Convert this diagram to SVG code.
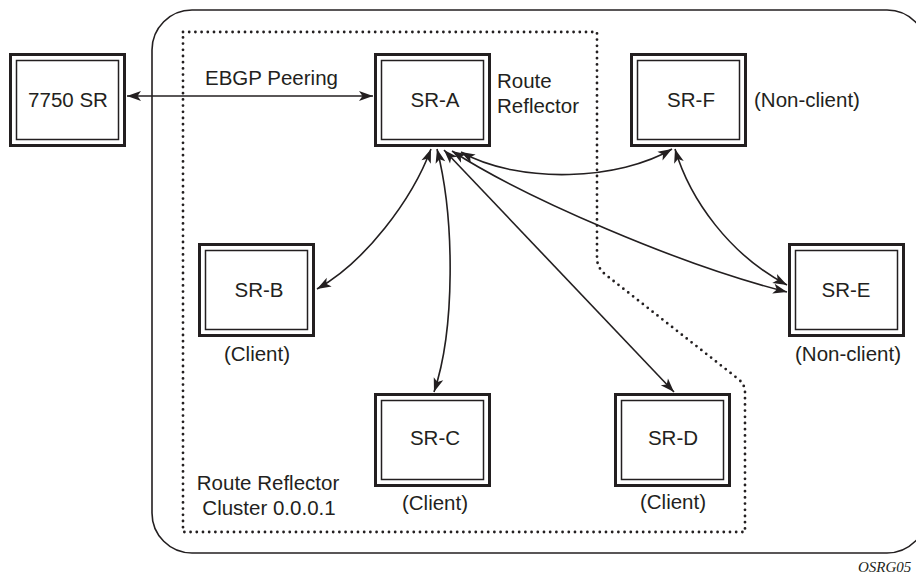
<svg xmlns="http://www.w3.org/2000/svg" width="916" height="575" viewBox="0 0 916 575">
<style>
  text { font-family: "Liberation Sans", Arial, sans-serif; font-size: 20.5px; fill: #231f20; }
  .mid { text-anchor: middle; }
  .outer { fill: #fff; stroke: #231f20; stroke-width: 3; }
  .inner { fill: none; stroke: #231f20; stroke-width: 1.5; }
  .conn { fill: none; stroke: #231f20; stroke-width: 1.6; marker-start: url(#ah); marker-end: url(#ah); }
  .dots { fill: none; stroke: #231f20; stroke-width: 2.8; stroke-linecap: round; stroke-dasharray: 0 6.2; }
  .tag { font-family: "Liberation Serif", "Times New Roman", serif; font-style: italic; font-size: 15px; }
</style>
<defs>
  <marker id="ah" markerUnits="userSpaceOnUse" markerWidth="15" markerHeight="11" refX="14" refY="5" orient="auto-start-reverse" overflow="visible">
    <path d="M0,0 L14,5 L0,10 L3.5,5 Z" fill="#231f20"/>
  </marker>
</defs>

<rect x="152" y="10" width="775" height="543" rx="40" ry="40" fill="none" stroke="#231f20" stroke-width="1.6"/>
<path class="dots" d="M183,32 H597 V258 Q597,268 606,275 L737,378 Q745,384 745,392 V532 H183 Z"/>

<text x="268" y="490" class="mid">Route Reflector</text>
<text x="269" y="515" class="mid">Cluster 0.0.0.1</text>

<g id="connectors">
  <path class="conn" d="M127,96 H373"/>
  <path class="conn" d="M431,149 C412,200 365,262 317,289"/>
  <path class="conn" d="M437,149 C455,220 455,330 434,392"/>
  <path class="conn" d="M444,150 L674,392"/>
  <path class="conn" d="M452,151 C525,198 680,265 787,292"/>
  <path class="conn" d="M461,152 C520,185 620,180 672,149"/>
  <path class="conn" d="M675,149 C690,200 730,255 787,285"/>
</g>
<text x="205" y="85">EBGP Peering</text>

<g id="n7750">
  <rect class="outer" x="10.5" y="54.5" width="114" height="91"/>
  <rect class="inner" x="16.5" y="60.5" width="102" height="79"/>
  <text x="68" y="107" class="mid">7750 SR</text>
</g>
<g id="srA">
  <rect class="outer" x="375.5" y="54.5" width="114" height="91"/>
  <rect class="inner" x="381.5" y="60.5" width="102" height="79"/>
  <text x="435" y="107" class="mid">SR-A</text>
  <text x="497" y="88">Route</text>
  <text x="497" y="113">Reflector</text>
</g>
<g id="srF">
  <rect class="outer" x="631.5" y="54.5" width="114" height="91"/>
  <rect class="inner" x="637.5" y="60.5" width="102" height="79"/>
  <text x="691" y="107" class="mid">SR-F</text>
  <text x="754" y="107">(Non-client)</text>
</g>
<g id="srB">
  <rect class="outer" x="199.5" y="244.5" width="114" height="91"/>
  <rect class="inner" x="205.5" y="250.5" width="102" height="79"/>
  <text x="259" y="297" class="mid">SR-B</text>
  <text x="257" y="361" class="mid">(Client)</text>
</g>
<g id="srE">
  <rect class="outer" x="789.5" y="244.5" width="114" height="91"/>
  <rect class="inner" x="795.5" y="250.5" width="102" height="79"/>
  <text x="846" y="297" class="mid">SR-E</text>
  <text x="848" y="361" class="mid">(Non-client)</text>
</g>
<g id="srC">
  <rect class="outer" x="375.5" y="394.5" width="114" height="91"/>
  <rect class="inner" x="381.5" y="400.5" width="102" height="79"/>
  <text x="435" y="445" class="mid">SR-C</text>
  <text x="435" y="510" class="mid">(Client)</text>
</g>
<g id="srD">
  <rect class="outer" x="615.5" y="394.5" width="114" height="91"/>
  <rect class="inner" x="621.5" y="400.5" width="102" height="79"/>
  <text x="673" y="445" class="mid">SR-D</text>
  <text x="673" y="509" class="mid">(Client)</text>
</g>
<text x="858" y="572" class="tag">OSRG05</text>
</svg>
